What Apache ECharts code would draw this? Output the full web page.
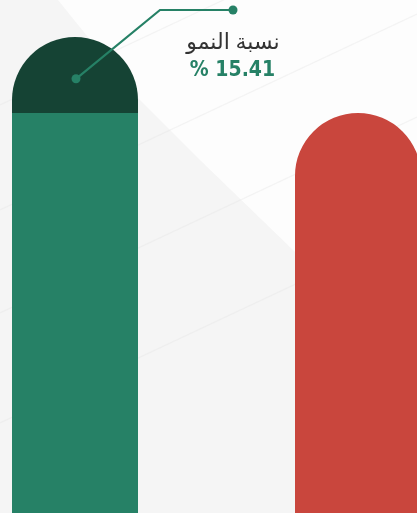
<!DOCTYPE html>
<html>
<head>
<meta charset="utf-8">
<script src="https://cdn.jsdelivr.net/npm/echarts@6/dist/echarts.min.js"></script>
<style>
  html, body { margin: 0; padding: 0; background: #f5f5f5; }
  #chart { width: 417px; height: 513px; }
</style>
</head>
<body>
<div id="chart"></div>
<script>
// قيم المقارنة (مؤشر نسبي، السابق = 100)
const categories = ['العام الحالي', 'العام السابق']
const baseValues = [100, 100]
const growthValues = [15.41, '-']
const growthLabel = 'نسبة النمو'

const green = '#268166'
const darkGreen = '#154334'
const red = '#c9463d'

let chart = echarts.init(document.getElementById('chart'))

// الخطوط الخفيفة في الخلفية
let bgLines = [105, 210, 313, 423].map(function (y0) {
	return {
		type: 'line',
		silent: true,
		z: -9,
		shape: { x1: 0, y1: y0, x2: 417, y2: y0 - 196 },
		style: { stroke: 'rgba(225,225,225,0.35)', lineWidth: 1.2 }
	}
})

let option = {
	animation: false,
	backgroundColor: '#f5f5f5',
	grid: {
		outerBoundsMode: 'none',
		containLabel: false,
		left: -66.5,
		width: 566,
		top: 37,
		bottom: -93
	},
	xAxis: {
		type: 'category',
		data: categories,
		show: false
	},
	yAxis: {
		type: 'value',
		min: 0,
		max: baseValues[0] + growthValues[0],
		show: false,
		splitLine: { show: false }
	},
	series: [{
		name: 'الأساس',
		type: 'bar',
		stack: 'total',
		barWidth: 126,
		data: baseValues.map(function (v, i) {
			return {
				value: v,
				itemStyle: i === 0
					? { color: green }
					: { color: red, borderRadius: [63, 63, 0, 0] }
			}
		})
	}, {
		name: growthLabel,
		type: 'bar',
		stack: 'total',
		barWidth: 126,
		itemStyle: {
			color: darkGreen,
			borderRadius: [63, 63, 0, 0]
		},
		data: growthValues
	}]
}
chart.setOption(option)

// موقع نقطة التعليق داخل جزء النمو
let dot = chart.convertToPixel({ gridIndex: 0 }, [0, baseValues[0] + growthValues[0] * 0.45])
dot[0] += 1
let elbow = [dot[0] + 84, 10]
let end = [dot[0] + 157, 10]

chart.setOption({
	graphic: bgLines.concat([{
		type: 'polygon',
		silent: true,
		z: -10,
		shape: {
			points: [[58, 0], [430, 0], [430, 380], [293, 250], [200, 160], [140, 100], [100, 52]]
		},
		style: { fill: '#fdfdfd' }
	}, {
		type: 'polyline',
		silent: true,
		z: 100,
		shape: { points: [dot, elbow, end] },
		style: { stroke: green, lineWidth: 2.2, fill: null }
	}, {
		type: 'circle',
		z: 101,
		shape: { cx: dot[0], cy: dot[1], r: 4.5 },
		style: { fill: green }
	}, {
		type: 'circle',
		z: 101,
		shape: { cx: end[0], cy: end[1], r: 4.5 },
		style: { fill: green }
	}, {
		type: 'text',
		z: 101,
		x: end[0],
		y: 43,
		style: {
			text: growthLabel,
			fill: '#333333',
			font: '22px "Noto Sans", "DejaVu Sans", sans-serif',
			align: 'center',
			verticalAlign: 'middle'
		}
	}, {
		type: 'text',
		z: 101,
		x: end[0] - 0.5,
		y: 71,
		style: {
			text: '% ' + growthValues[0].toFixed(2),
			fill: green,
			font: 'bold 21px "DejaVu Sans Condensed", "Open Sans", sans-serif',
			align: 'center',
			verticalAlign: 'middle'
		}
	}])
})
</script>
</body>
</html>
